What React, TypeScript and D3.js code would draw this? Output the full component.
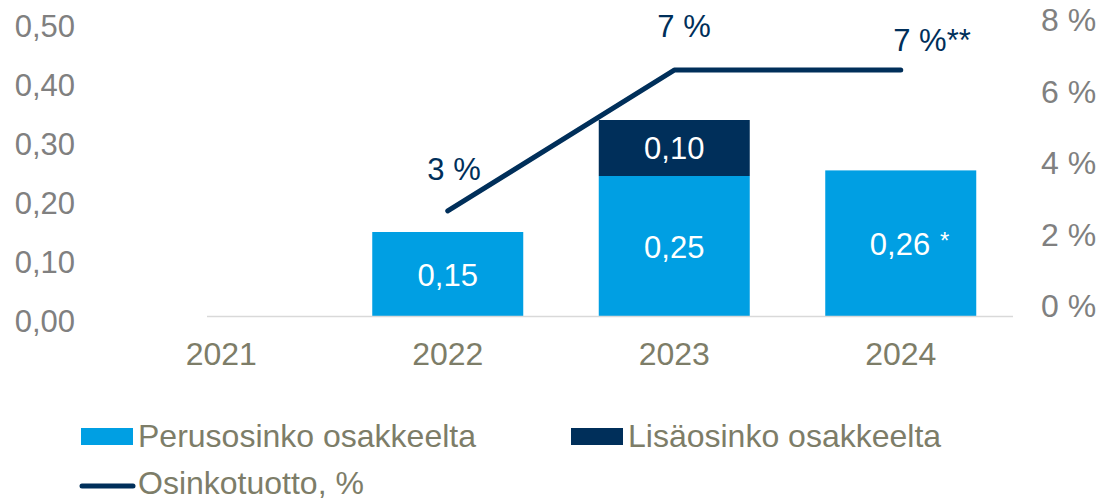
import React from "react";
import * as d3 from "d3";

const categories = ["2021", "2022", "2023", "2024"];
const baseDividend = [null, 0.15, 0.25, 0.26];
const extraDividend = [null, null, 0.1, null];
const baseLabels = ["", "0,15", "0,25", "0,26"];
const extraLabels = ["", "", "0,10", ""];
const yieldValues = [null, 2.66, 6.6, 6.6];
const yieldLabels = ["", "3 %", "7 %", "7 %**"];
const leftTicks = [0, 0.1, 0.2, 0.3, 0.4, 0.5];
const rightTicks = [0, 2, 4, 6, 8];

const W = 1102;
const H = 500;
const FONT = "'Liberation Sans', Arial, sans-serif";
const LIGHT = "#009fe3";
const NAVY = "#002f5a";
const GRAY = "#808080";
const OLIVE = "#7d7d68";

export default function App() {
  const x = d3.scaleBand<string>().domain(categories).range([108, 1014]).paddingInner(1 / 3).paddingOuter(1 / 6);
  const yBar = d3.scaleLinear().domain([0, 0.5]).range([316, 36]);
  const yLeftLabel = d3.scaleLinear().domain([0, 0.5]).range([321, 26]);
  const yRight = d3.scaleLinear().domain([0, 8]).range([306, 20]);
  const fmtLeft = (v: number) => d3.format(".2f")(v).replace(".", ",");
  const cx = (c: string) => (x(c) as number) + x.bandwidth() / 2;
  const fs = 31;
  const fsBig = 32;
  const base = (center: number, f: number = fs) => center + f * 0.358;

  const linePts = categories
    .map((c, i) => (yieldValues[i] == null ? null : ([cx(c), yRight(yieldValues[i] as number)] as [number, number])))
    .filter((p) => p) as [number, number][];
  const line = d3.line();

  const yieldLabelPos = [null, [454, 168.5], [684, 26], [932, 40]];

  return (
    <svg width={W} height={H} style={{ position: "absolute", left: 0, top: 0, fontFamily: FONT }}>
      <rect width={W} height={H} fill="#fff" />
      {leftTicks.map((t) => (
        <text key={"l" + t} x={75} y={base(yLeftLabel(t))} textAnchor="end" fontSize={fs} fill={GRAY}>
          {fmtLeft(t)}
        </text>
      ))}
      {rightTicks.map((t) => (
        <text key={"r" + t} x={1041} y={base(yRight(t), fsBig)} textAnchor="start" fontSize={fsBig} fill={GRAY}>
          {t} %
        </text>
      ))}
      {categories.map((c, i) => {
        const b = baseDividend[i];
        const e = extraDividend[i];
        const xs = x(c) as number;
        const bw = x.bandwidth();
        return (
          <g key={"b" + c}>
            {b != null && <rect x={xs} y={yBar(b)} width={bw} height={yBar(0) - yBar(b)} fill={LIGHT} />}
            {e != null && b != null && (
              <rect x={xs} y={yBar(b + e)} width={bw} height={yBar(b) - yBar(b + e)} fill={NAVY} />
            )}
          </g>
        );
      })}
      <line x1={207} x2={1013} y1={316.5} y2={316.5} stroke="#d9d9d9" strokeWidth={1.5} />
      {categories.map((c, i) => {
        const b = baseDividend[i];
        const e = extraDividend[i];
        const out: React.ReactNode[] = [];
        if (b != null) {
          const center = (yBar(0) + yBar(b)) / 2 + 1;
          const isStar = i === 3;
          out.push(
            <text key={"bl" + c} x={isStar ? 900 : cx(c)} y={base(center)} textAnchor="middle" fontSize={fs} fill="#fff">
              {baseLabels[i]}
            </text>
          );
          if (isStar) {
            out.push(
              <text key={"star" + c} x={940} y={base(center) - 6} textAnchor="start" fontSize={24} fill="#fff">
                *
              </text>
            );
          }
        }
        if (e != null && b != null) {
          const center = (yBar(b) + yBar(b + e)) / 2;
          out.push(
            <text key={"el" + c} x={cx(c)} y={base(center)} textAnchor="middle" fontSize={fs} fill="#fff">
              {extraLabels[i]}
            </text>
          );
        }
        return <g key={"lbl" + c}>{out}</g>;
      })}
      <path d={line(linePts) || ""} fill="none" stroke={NAVY} strokeWidth={5} strokeLinecap="round" strokeLinejoin="round" />
      {yieldLabels.map((l, i) => {
        const p = yieldLabelPos[i];
        if (!p || !l) return null;
        return (
          <text key={"yl" + i} x={p[0]} y={base(p[1])} textAnchor="middle" fontSize={fs} fill={NAVY}>
            {l}
          </text>
        );
      })}
      {categories.map((c) => (
        <text key={"x" + c} x={cx(c)} y={base(353.5, fsBig)} textAnchor="middle" fontSize={fsBig} fill={OLIVE}>
          {c}
        </text>
      ))}
      <rect x={81} y={428} width={52} height={17} fill={LIGHT} />
      <text x={138} y={base(436, fsBig)} fontSize={fsBig} fill={OLIVE}>
        Perusosinko osakkeelta
      </text>
      <rect x={571} y={428} width={52} height={17} fill={NAVY} />
      <text x={628} y={base(436, fsBig)} fontSize={fsBig} fill={OLIVE}>
        Lisäosinko osakkeelta
      </text>
      <line x1={82} x2={133} y1={486} y2={486} stroke={NAVY} strokeWidth={5} strokeLinecap="round" />
      <text x={138} y={base(483, fsBig)} fontSize={fsBig} fill={OLIVE}>
        Osinkotuotto, %
      </text>
    </svg>
  );
}
